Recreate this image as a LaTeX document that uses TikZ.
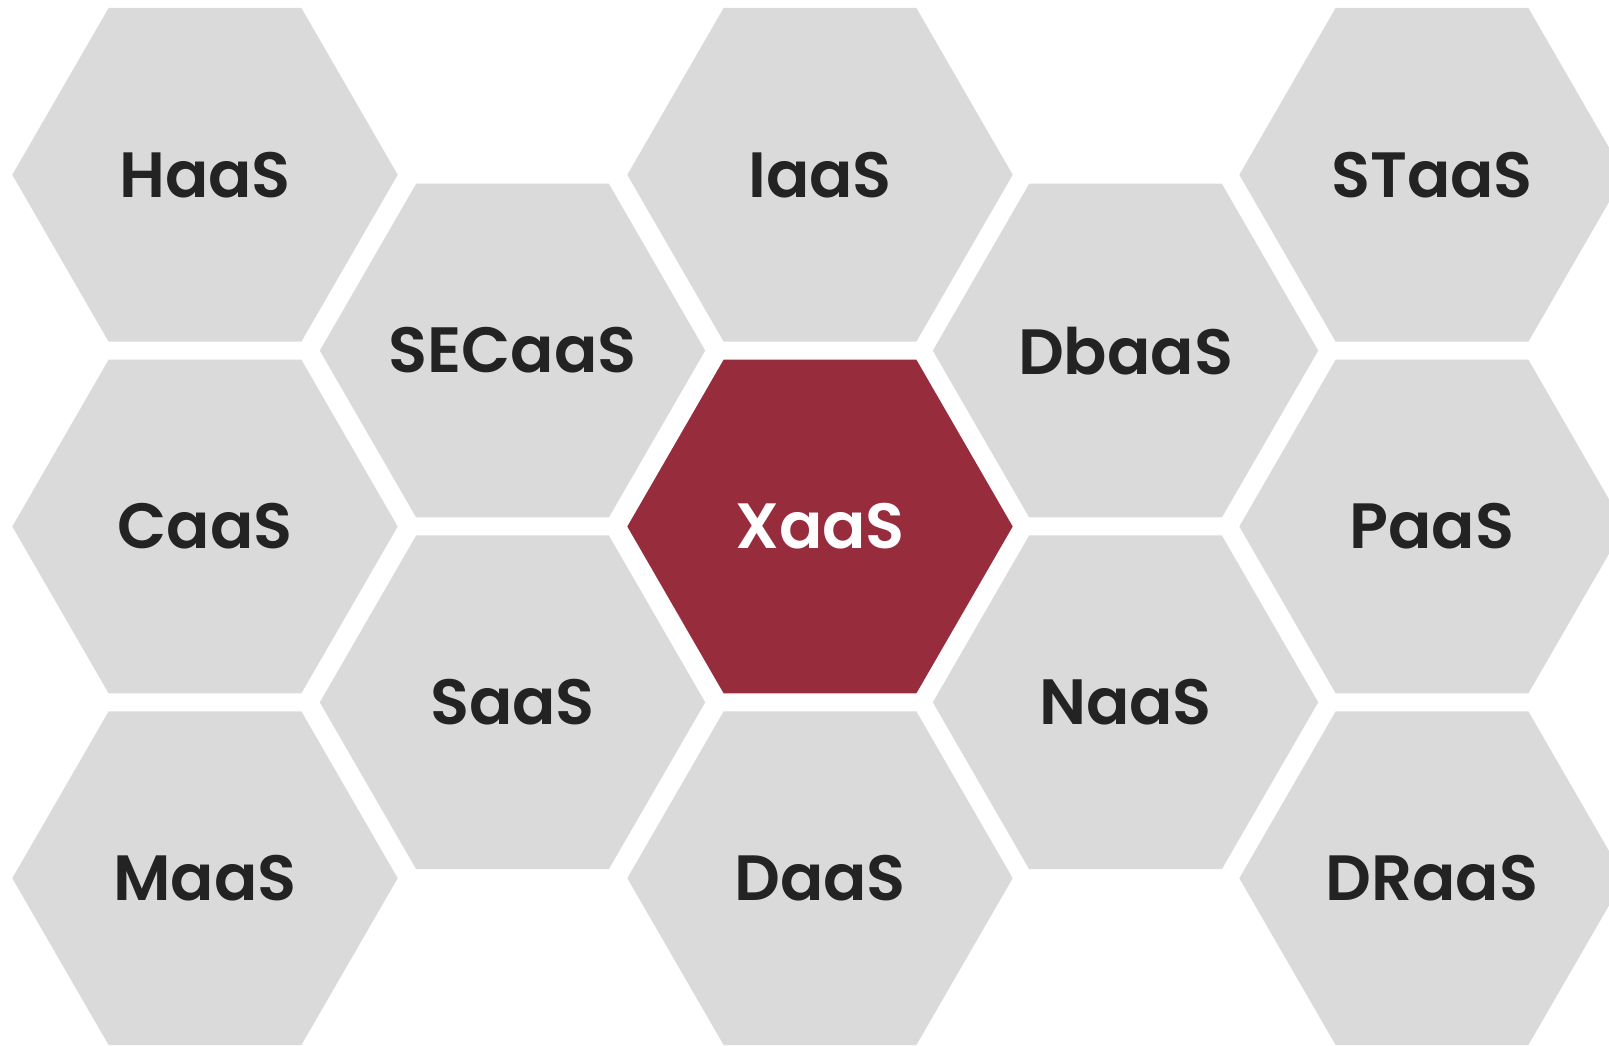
\documentclass[tikz,border=0pt]{standalone}
\usepackage{fontspec}
\setmainfont{Poppins}
\newfontfamily\hexfont{Poppins SemiBold}
\usetikzlibrary{shapes.geometric}
\definecolor{hexgray}{HTML}{DADADA}
\definecolor{hexred}{HTML}{972C3C}
\definecolor{hextext}{HTML}{232323}
\newcommand{\hextag}[1]{\makebox[0pt]{#1}}

\begin{document}
\begin{tikzpicture}[x=0.5pt,y=-0.5pt]
\tikzset{hexcell/.style={regular polygon,regular polygon sides=6,minimum size=192.7pt,inner sep=0pt,outer sep=0pt,fill=hexgray,text=hextext,font=\hexfont\fontsize{32}{40}\selectfont}}
\tikzset{hexhot/.style={hexcell,fill=hexred,text=white}}
\useasboundingbox (0,0) rectangle (1609,1045);
\clip (0,0) rectangle (1609,1045);
% outer columns
\node[hexcell] (haas) at (205,174.8) {\hextag{HaaS}};
\node[hexcell] (caas) at (205,526.5) {\hextag{CaaS}};
\node[hexcell] (maas) at (205,878.2) {\hextag{MaaS}};
\node[hexcell] (staas) at (1432,174.8) {\hextag{STaaS}};
\node[hexcell] (paas) at (1432,526.5) {\hextag{PaaS}};
\node[hexcell] (draas) at (1432,878.2) {\hextag{DRaaS}};
% inner columns
\node[hexcell] (secaas) at (512.5,350.6) {\hextag{SECaaS}};
\node[hexcell] (saas) at (512.5,702.3) {\hextag{SaaS}};
\node[hexcell] (dbaas) at (1125.5,350.6) {\hextag{DbaaS}};
\node[hexcell] (naas) at (1125.5,702.3) {\hextag{NaaS}};
% middle column
\node[hexcell] (iaas) at (820,174.8) {\hextag{IaaS}};
\node[hexhot] (xaas) at (820,526.5) {\hextag{XaaS}};
\node[hexcell] (daas) at (820,878.2) {\hextag{DaaS}};
\end{tikzpicture}
\end{document}
